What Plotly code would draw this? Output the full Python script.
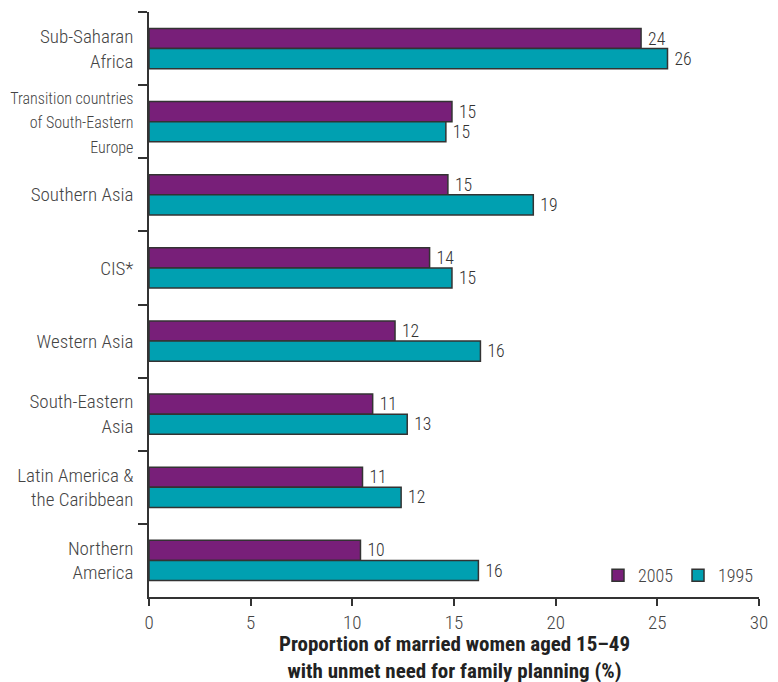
import plotly.graph_objects as go

regions = [
    "Sub-Saharan<br>Africa",
    "<span style='font-size:16px'>Transition countries<br>of South-Eastern<br>Europe</span>",
    "Southern Asia",
    "CIS*",
    "Western Asia",
    "South-Eastern<br>Asia",
    "Latin America &<br>the Caribbean",
    "Northern<br>America",
]
vals_2005 = [24.2, 14.9, 14.7, 13.8, 12.1, 11.0, 10.5, 10.4]
vals_1995 = [25.5, 14.6, 18.9, 14.9, 16.3, 12.7, 12.4, 16.2]
labels_2005 = ["24", "15", "15", "14", "12", "11", "11", "10"]
labels_1995 = ["26", "15", "19", "15", "16", "13", "12", "16"]

font_family = "Roboto Condensed, Liberation Sans Narrow, Arial Narrow, Liberation Sans, sans-serif"
thin = dict(family=font_family, weight=300)

fig = go.Figure()

# 2005 first so it sits on top within each group (reversed y axis)
fig.add_trace(go.Bar(
    y=regions, x=vals_2005, orientation="h", name="2005",
    marker=dict(color="#781F79", line=dict(color="#333333", width=1.5)),
    text=labels_2005, texttemplate=" %{text}", textposition="outside", cliponaxis=False,
    textfont=dict(size=22, color="#333333", **thin),
))
fig.add_trace(go.Bar(
    y=regions, x=vals_1995, orientation="h", name="1995",
    marker=dict(color="#00A0B1", line=dict(color="#333333", width=1.5)),
    text=labels_1995, texttemplate=" %{text}", textposition="outside", cliponaxis=False,
    textfont=dict(size=22, color="#333333", **thin),
))

# axis title as an annotation so it can sit lower than the margin allows
fig.add_annotation(
    text="<b>Proportion of married women aged 15–49<br>with unmet need for family planning (%)</b>",
    xref="paper", yref="paper", x=0.5, y=-0.103, xanchor="center", yanchor="middle",
    showarrow=False, font=dict(size=21, color="#222222", family=font_family),
)

fig.update_layout(
    width=770, height=674,
    margin=dict(l=141, r=19, t=4, b=85),
    barmode="group",
    bargap=0.45,
    bargroupgap=0,
    plot_bgcolor="white",
    paper_bgcolor="white",
    font=dict(size=18, color="#444444", **thin),
    showlegend=True,
    legend=dict(
        orientation="h", x=1, xanchor="right", y=0.005, yanchor="bottom",
        font=dict(size=18, color="#444444", **thin), bgcolor="rgba(0,0,0,0)",
    ),
    xaxis=dict(
        range=[0, 30], dtick=5, showgrid=False, zeroline=False, automargin=False,
        showline=True, linecolor="#333333", linewidth=1.5,
        ticks="outside", ticklen=7, tickcolor="#333333", tickwidth=1.5,
        tickfont=dict(size=19, color="#444444", **thin),
    ),
    yaxis=dict(
        autorange="reversed", showgrid=False, zeroline=False, automargin=False,
        showline=True, linecolor="#333333", linewidth=1.5,
        ticks="outside", tickson="boundaries", ticklen=9,
        tickcolor="#333333", tickwidth=1.5, ticklabelstandoff=10,
        tickfont=dict(size=19, color="#444444", **thin),
    ),
)

fig.write_html("out.html")
